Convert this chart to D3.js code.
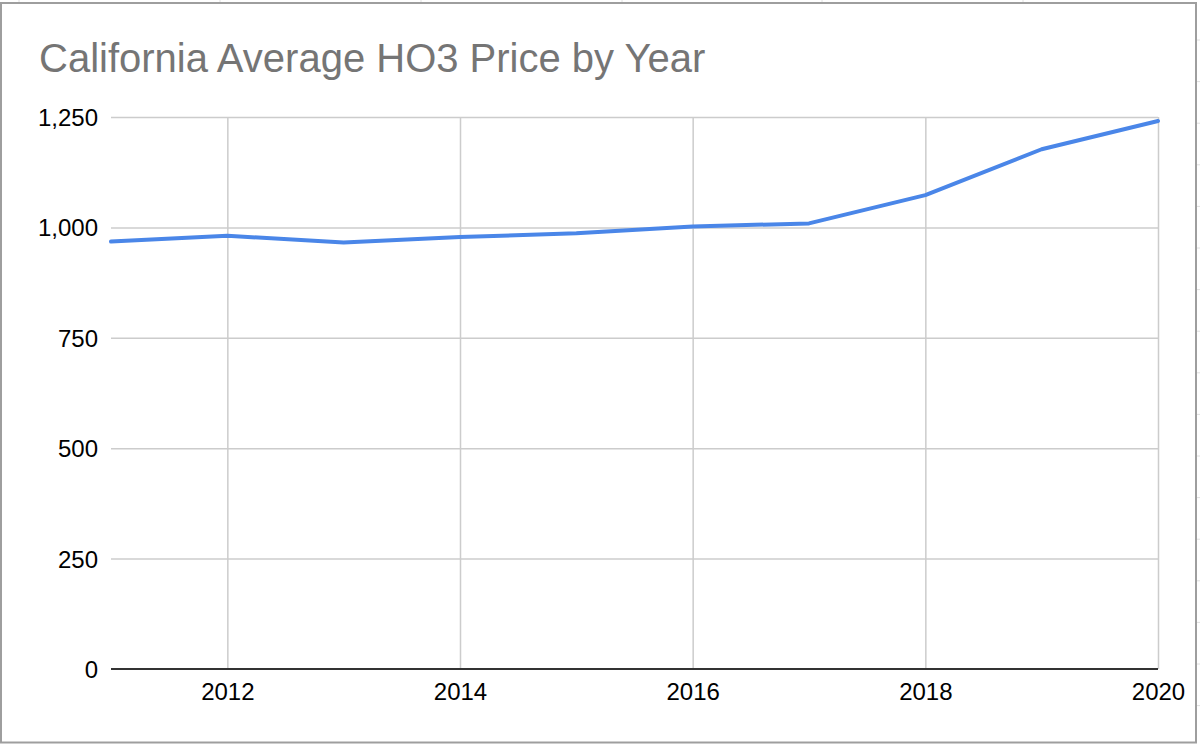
<!DOCTYPE html>
<html>
<head>
<meta charset="utf-8">
<script src="https://cdn.jsdelivr.net/npm/d3@7"></script>
<style>
  html, body { margin: 0; padding: 0; background: #fff; }
  svg { display: block; }
  text { font-family: "Liberation Sans", Arial, Helvetica, sans-serif; }
</style>
</head>
<body>
<svg id="chart" width="1200" height="744"></svg>
<script>
// ---- data ----
const title = "California Average HO3 Price by Year";
const years = [2011, 2012, 2013, 2014, 2015, 2016, 2017, 2018, 2019, 2020];
const prices = [968, 981, 966, 978, 987, 1002, 1009, 1073, 1177, 1241];
const yTicks = [0, 250, 500, 750, 1000, 1250];
const xTicks = [2012, 2014, 2016, 2018, 2020];

// ---- layout ----
const W = 1200, H = 744;
const plot = { left: 111, right: 1158, top: 117, bottom: 669 };

const svg = d3.select("#chart");

// spreadsheet grid remnants outside the chart frame
const sheetCols = [19, 220, 421, 622, 822, 1023];
svg.selectAll("line.sheetcol").data(sheetCols).join("line")
  .attr("class", "sheetcol")
  .attr("x1", d => d).attr("x2", d => d)
  .attr("y1", 0).attr("y2", 2)
  .attr("stroke", "#e0e0e0").attr("stroke-width", 1);
const sheetRows = d3.range(40, 744, 41.6);
svg.selectAll("line.sheetrow").data(sheetRows).join("line")
  .attr("class", "sheetrow")
  .attr("x1", 1197).attr("x2", 1200)
  .attr("y1", d => d).attr("y2", d => d)
  .attr("stroke", "#e0e0e0").attr("stroke-width", 1);

// chart frame
svg.append("rect")
  .attr("x", 1).attr("y", 3)
  .attr("width", 1195).attr("height", 739.5)
  .attr("fill", "#fff")
  .attr("stroke", "#9e9e9e").attr("stroke-width", 2);

// scales
const x = d3.scaleLinear().domain([2011, 2020]).range([plot.left, plot.right]);
const y = d3.scaleLinear().domain([0, 1250]).range([plot.bottom, plot.top]);

// horizontal gridlines + y labels
const yAxis = svg.append("g")
  .attr("transform", `translate(${plot.left},0)`)
  .call(d3.axisLeft(y).tickValues(yTicks)
    .tickSize(-(plot.right - plot.left))
    .tickPadding(13)
    .tickFormat(d3.format(",")));
yAxis.select(".domain").remove();
yAxis.selectAll(".tick line")
  .attr("stroke", d => d === 0 ? "none" : "#cccccc")
  .attr("stroke-width", 1.5);
yAxis.selectAll(".tick text")
  .attr("fill", "#000")
  .attr("font-size", 24)
  .attr("dy", "0.35em")
  .style("font-family", '"Liberation Sans", Arial, sans-serif');

// vertical gridlines + x labels
const xAxis = svg.append("g")
  .attr("transform", `translate(0,${plot.bottom})`)
  .call(d3.axisBottom(x).tickValues(xTicks)
    .tickSize(-(plot.bottom - plot.top))
    .tickPadding(0)
    .tickFormat(d3.format("d")));
xAxis.select(".domain").remove();
xAxis.selectAll(".tick line")
  .attr("stroke", "#cccccc")
  .attr("stroke-width", 1.5);
xAxis.selectAll(".tick text")
  .attr("fill", "#000")
  .attr("font-size", 24)
  .attr("y", 31)
  .attr("dy", 0)
  .style("font-family", '"Liberation Sans", Arial, sans-serif');

// baseline
svg.append("line")
  .attr("x1", plot.left).attr("x2", plot.right)
  .attr("y1", y(0)).attr("y2", y(0))
  .attr("stroke", "#333").attr("stroke-width", 2);

// data line
const line = d3.line().x((d, i) => x(years[i])).y(d => y(d));
svg.append("path")
  .datum(prices)
  .attr("fill", "none")
  .attr("stroke", "#4a86e8")
  .attr("stroke-width", 4)
  .attr("stroke-linejoin", "round")
  .attr("stroke-linecap", "round")
  .attr("d", line);

// title
svg.append("text")
  .attr("x", 39).attr("y", 72)
  .attr("fill", "#757575")
  .attr("font-size", 40)
  .text(title);
</script>
</body>
</html>
